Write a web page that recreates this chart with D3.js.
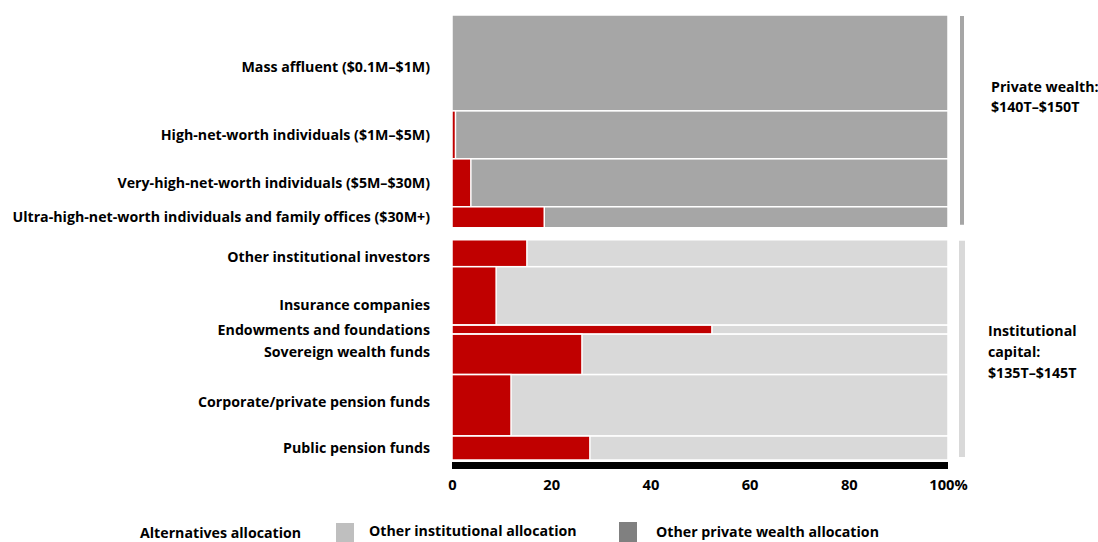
<!DOCTYPE html>
<html>
<head>
<meta charset="utf-8">
<script src="https://cdn.jsdelivr.net/npm/d3@7"></script>
<style>
  html, body { margin: 0; padding: 0; background: #fff; }
  svg { display: block; font-family: "Open Sans", sans-serif; font-weight: 700; }
</style>
</head>
<body>
<svg id="chart" width="1098" height="542"></svg>
<script>
// Investor segments, top to bottom
const privateSegments = [
  "Mass affluent ($0.1M–$1M)",
  "High-net-worth individuals ($1M–$5M)",
  "Very-high-net-worth individuals ($5M–$30M)",
  "Ultra-high-net-worth individuals and family offices ($30M+)"
];
const institutionalSegments = [
  "Other institutional investors",
  "Insurance companies",
  "Endowments and foundations",
  "Sovereign wealth funds",
  "Corporate/private pension funds",
  "Public pension funds"
];
// Segment size, $T (row height)
const privateSize = [64, 32, 32, 14];
const institutionalSize = [18, 39, 6, 27, 41, 16];
// Share allocated to alternatives, %
const privateAlternatives = [0, 0.7, 3.8, 18.6];
const institutionalAlternatives = [15.1, 8.9, 52.4, 26.2, 11.9, 27.8];

const xTicks = [0, 20, 40, 60, 80, 100];
const groupTitles = [["Private wealth:", "$140T–$150T"], ["Institutional", "capital:", "$135T–$145T"]];
const legendLabels = ["Alternatives allocation", "Other institutional allocation", "Other private wealth allocation"];

const colors = {
  alt: "#C00000",
  privateOther: "#A6A6A6",
  instOther: "#D9D9D9",
  legendInst: "#BFBFBF",
  legendPrivate: "#808080"
};

const svg = d3.select("#chart");
const groupGap = 8; // $T of empty space between the two groups

// Build row extents along a single value axis
const groups = [
  { key: "private", names: privateSegments, sizes: privateSize, alts: privateAlternatives, other: colors.privateOther },
  { key: "inst", names: institutionalSegments, sizes: institutionalSize, alts: institutionalAlternatives, other: colors.instOther }
];
let cursor = 0;
const rows = [];
groups.forEach((g, gi) => {
  g.start = cursor;
  g.names.forEach((name, i) => {
    rows.push({ name, group: g.key, start: cursor, end: cursor + g.sizes[i], alt: g.alts[i], other: g.other });
    cursor += g.sizes[i];
  });
  g.end = cursor;
  if (gi < groups.length - 1) cursor += groupGap;
});
const total = cursor;

const x = d3.scaleLinear().domain([0, 100]).range([452, 948]);
const y = d3.scaleLinear().domain([0, total]).range([15, 460]);

// Text size: fit the longest row label into the space left of the bars
const probe = svg.append("text").attr("font-size", 14).text(privateSegments[3]);
const fs = 14 * 418 / probe.node().getComputedTextLength();
probe.remove();

// Bars: alternatives share + remainder
const rowG = svg.append("g").selectAll("g").data(rows).join("g");
rowG.append("rect")
  .attr("x", x(0))
  .attr("y", d => y(d.start))
  .attr("width", d => x(100) - x(0))
  .attr("height", d => y(d.end) - y(d.start))
  .attr("fill", d => d.other)
  .attr("stroke", "#fff").attr("stroke-width", 1.5);
rowG.filter(d => d.alt > 0).append("rect")
  .attr("x", x(0))
  .attr("y", d => y(d.start))
  .attr("width", d => x(d.alt) - x(0))
  .attr("height", d => y(d.end) - y(d.start))
  .attr("fill", colors.alt)
  .attr("stroke", "#fff").attr("stroke-width", 1.5);

// Row labels, right-aligned against the bars
const labelNudge = {
  "Mass affluent ($0.1M–$1M)": 4,
  "Other institutional investors": 4,
  "Insurance companies": 9,
  "Sovereign wealth funds": -2,
  "Corporate/private pension funds": -3
};
svg.append("g").selectAll("text").data(rows).join("text")
  .attr("x", 430)
  .attr("y", d => (y(d.start) + y(d.end)) / 2 + (labelNudge[d.name] || 0))
  .attr("dy", "0.35em")
  .attr("text-anchor", "end")
  .attr("font-size", fs)
  .attr("fill", "#000")
  .text(d => d.name);

// Baseline bar
svg.append("rect")
  .attr("x", x(0)).attr("width", x(100) - x(0))
  .attr("y", y(total) + 2).attr("height", 7)
  .attr("fill", "#000");

// X axis
const xAxis = svg.append("g")
  .attr("transform", `translate(0,${y(total) + 9})`)
  .call(d3.axisBottom(x).tickValues(xTicks).tickSize(0).tickPadding(11)
    .tickFormat(d => d === 100 ? "100%" : d));
xAxis.select(".domain").remove();
xAxis.selectAll("text").attr("font-size", fs + 0.5).attr("font-weight", 700)
  .attr("font-family", "'Open Sans', sans-serif").attr("fill", "#000");

// Group brackets and titles
const bracketColor = { private: colors.privateOther, inst: colors.instOther };
const bracketWidth = { private: 4, inst: 6 };
groups.forEach(g => {
  svg.append("rect")
    .attr("x", 962 - bracketWidth[g.key] / 2)
    .attr("y", y(g.start) + 1)
    .attr("width", bracketWidth[g.key])
    .attr("height", y(g.end) - y(g.start) - 4)
    .attr("fill", bracketColor[g.key]);
});
const titleG = svg.append("g").attr("font-size", fs);
titleG.append("text").attr("y", 87)
  .selectAll("tspan").data(groupTitles[0]).join("tspan")
  .attr("x", 991).attr("dy", (d, i) => i === 0 ? "0.35em" : 20).text(d => d);
titleG.append("text").attr("y", 331)
  .selectAll("tspan").data(groupTitles[1]).join("tspan")
  .attr("x", 988).attr("dy", (d, i) => i === 0 ? "0.35em" : 21).text(d => d);

// Legend
const legend = svg.append("g").attr("font-size", fs);
legend.append("text").attr("x", 140).attr("y", 538).text(legendLabels[0]);
legend.append("rect").attr("x", 336).attr("y", 523).attr("width", 18).attr("height", 19).attr("fill", colors.legendInst);
legend.append("text").attr("x", 369).attr("y", 536).text(legendLabels[1]);
legend.append("rect").attr("x", 619).attr("y", 522).attr("width", 18).attr("height", 20).attr("fill", colors.legendPrivate);
legend.append("text").attr("x", 656).attr("y", 537).text(legendLabels[2]);
</script>
</body>
</html>
